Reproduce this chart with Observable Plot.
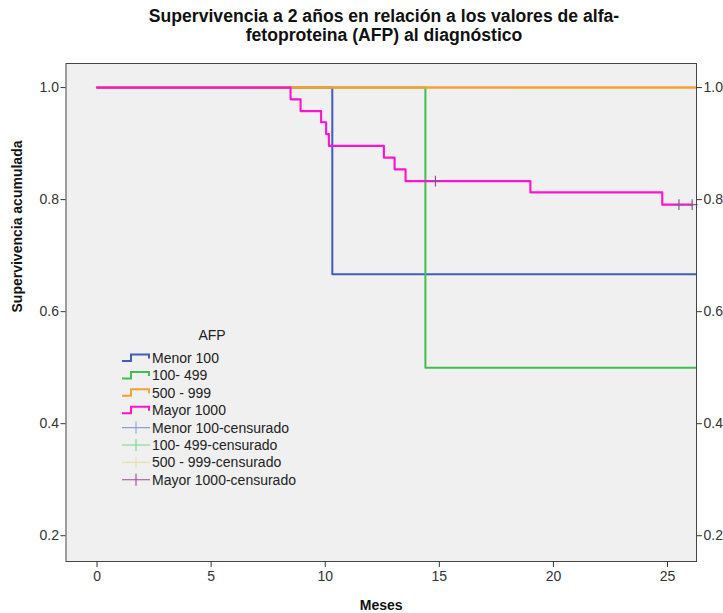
<!DOCTYPE html>
<html>
<head>
<meta charset="utf-8">
<script src="https://cdn.jsdelivr.net/npm/d3@7"></script>
<script src="https://cdn.jsdelivr.net/npm/@observablehq/plot@0.6"></script>
<style>
  body { margin: 0; background: #fff; }
  #wrap { position: relative; width: 723px; height: 613px; overflow: hidden; }
  #title {
    height: 52px; box-sizing: border-box; padding: 7px 0 0 45px;
    font: bold 17.6px "Liberation Sans", Arial, sans-serif; line-height: 19px;
    text-align: center; color: #111;
  }
  #legend { position: absolute; left: 0; top: 0; pointer-events: none; }
</style>
</head>
<body>
<div id="wrap">
  <div id="title">Supervivencia a 2 años en relación a los valores de alfa-<br>fetoproteina (AFP) al diagnóstico</div>
</div>
<script>
// Kaplan–Meier curves (months, cumulative survival) by AFP group
const groups = ["Menor 100", "100- 499", "500 - 999", "Mayor 1000"];
const groupColors = ["#3f5cbf", "#3dbf52", "#f7a032", "#ff12d2"];

const menor100Time = [0, 10.31, 26.25];
const menor100Surv = [1.0, 0.667, 0.667];

const afp100Time = [0, 14.39, 26.25];
const afp100Surv = [1.0, 0.5, 0.5];

const afp500Time = [0, 26.25];
const afp500Surv = [1.0, 1.0];

const mayor1000Time = [0, 8.48, 8.92, 9.82, 10.04, 10.16, 12.57, 13.04, 13.52, 18.99, 24.77, 26.08];
const mayor1000Surv = [1.0, 0.979, 0.958, 0.938, 0.917, 0.896, 0.875, 0.854, 0.833, 0.813, 0.791, 0.791];

// censored observations (only the >1000 group has them inside the window)
const mayor1000CensTime = [14.83, 25.50, 26.08];
const mayor1000CensSurv = [0.833, 0.791, 0.791];

const xTicks = [0, 5, 10, 15, 20, 25];
const yTicks = [0.2, 0.4, 0.6, 0.8, 1.0];

const legendLabels = ["Menor 100", "100- 499", "500 - 999", "Mayor 1000",
  "Menor 100-censurado", "100- 499-censurado", "500 - 999-censurado", "Mayor 1000-censurado"];
const censColors = ["#8d9fd8", "#6fd97f", "#e6dfb0", "#9a4c9a"];

const toRows = (g, t, s) => t.map((d, i) => ({group: g, time: d, surv: s[i]}));
const series = [
  toRows(groups[0], menor100Time, menor100Surv),
  toRows(groups[1], afp100Time, afp100Surv),
  toRows(groups[2], afp500Time, afp500Surv),
  toRows(groups[3], mayor1000Time, mayor1000Surv)
];
const censored = toRows(groups[3], mayor1000CensTime, mayor1000CensSurv);
// the flat 500-999 curve sits on top of the others at 1.0, so it is drawn a touch wider
const lineWidths = [2, 2, 2.5, 2.1];

const tickFont = '"Liberation Sans Narrow", "Arial Narrow", "Liberation Sans", sans-serif';

const chart = Plot.plot({
  width: 723,
  height: 561,
  marginTop: 11,
  marginBottom: 52,
  marginLeft: 65.5,
  marginRight: 27,
  style: {background: "#fff", fontFamily: '"Liberation Sans", Arial, sans-serif', overflow: "visible"},
  x: {domain: [-1.36, 26.27]},
  y: {domain: [0.154, 1.043]},
  color: {domain: groups, range: groupColors},
  marks: [
    Plot.frame({fill: "#f0f0f0", stroke: null}),
    ...series.map((rows, i) => Plot.line(rows, {
      x: "time", y: "surv", stroke: "group", curve: "step-after", strokeWidth: lineWidths[i]
    })),
    Plot.dot(censored, {x: "time", y: "surv", symbol: "plus", r: 3.6, stroke: censColors[3], strokeWidth: 1.2}),
    Plot.frame({stroke: "#444", strokeWidth: 1}),
    Plot.axisX({ticks: xTicks, tickSize: 6, tickPadding: 4, label: null, fontSize: 14,
      fontFamily: tickFont, color: "#333"}),
    Plot.axisY({anchor: "left", ticks: yTicks, tickFormat: ".1f", tickSize: 5, tickPadding: 2,
      label: null, fontSize: 14, fontFamily: tickFont, color: "#333"}),
    Plot.axisY({anchor: "right", ticks: yTicks, tickFormat: ".1f", tickSize: 5, tickPadding: 2,
      label: null, fontSize: 14, fontFamily: tickFont, color: "#333"}),
    Plot.text(["Meses"], {frameAnchor: "bottom", dy: 48, fontWeight: "bold", fontSize: 14, fill: "#111"}),
    Plot.text(["Supervivencia acumulada"], {frameAnchor: "left", dx: -48.5, rotate: -90,
      fontWeight: "bold", fontSize: 14, fill: "#111"})
  ]
});
document.getElementById("wrap").appendChild(chart);

// legend drawn inside the plotting area
const lg = d3.select("#wrap").append("svg").attr("id", "legend")
  .attr("width", 723).attr("height", 613)
  .style("font-family", '"Liberation Sans", Arial, sans-serif');
lg.append("text").attr("x", 212).attr("y", 340).attr("text-anchor", "middle")
  .attr("font-size", 14).attr("fill", "#222").text("AFP");
legendLabels.forEach((label, i) => {
  const cy = 358 + i * 17.4;
  const g = lg.append("g").attr("transform", `translate(122,${cy})`);
  if (i < 4) {
    g.append("path").attr("d", "M0,3H9V-3.5H27V0.5").attr("fill", "none")
      .attr("stroke", groupColors[i]).attr("stroke-width", 2);
  } else {
    g.append("path").attr("d", "M0,0H28M14,-6V6").attr("fill", "none")
      .attr("stroke", censColors[i - 4]).attr("stroke-width", 1.1);
  }
  g.append("text").attr("x", 30).attr("dy", "0.36em").attr("font-size", 14)
    .attr("fill", "#222").text(label);
});
</script>
</body>
</html>
